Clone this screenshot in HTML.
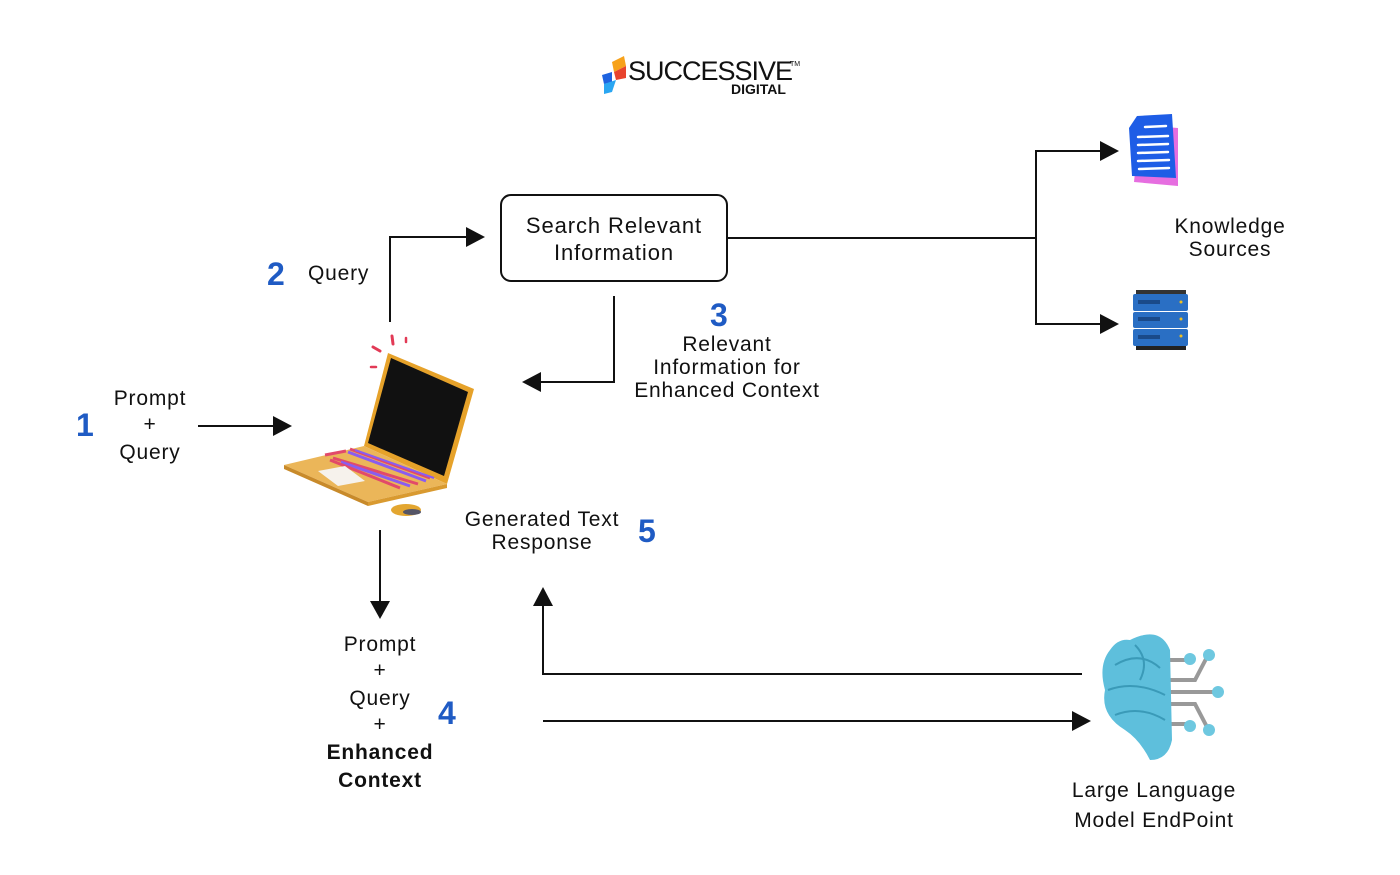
<!DOCTYPE html>
<html><head><meta charset="utf-8"><style>
html,body{margin:0;padding:0;background:#fff;width:1400px;height:875px;overflow:hidden}
svg{display:block}
text{font-family:"Liberation Sans",sans-serif;fill:#111}
.t{font-size:21px;letter-spacing:0.8px}
.b{font-size:22px;letter-spacing:0.9px}
.n{font-size:32px;fill:#1f5bc4;font-weight:bold}
</style></head><body>
<svg width="1400" height="875" viewBox="0 0 1400 875">
<!-- logo -->
<polygon points="612,62 624,56 626,66 614,72" fill="#f7a21b"/>
<polygon points="614,72 626,66 626,78 616,80" fill="#e8442e"/>
<polygon points="602,75 612,72 612,82 604,84" fill="#1e63e0"/>
<polygon points="604,84 616,80 612,92 604,94" fill="#2aa6f2"/>
<text x="628" y="80" style="font-size:27px;letter-spacing:-1px">SUCCESSIVE</text>
<text x="790" y="66" style="font-size:7px">TM</text>
<text x="731" y="94" style="font-size:14px;font-weight:bold">DIGITAL</text>
<!-- search box -->
<rect x="501" y="195" width="226" height="86" rx="10" fill="#fff" stroke="#111" stroke-width="2"/>
<text class="b" x="614" y="233" text-anchor="middle">Search Relevant</text>
<text class="b" x="614" y="260" text-anchor="middle">Information</text>
<g stroke="#111" stroke-width="2" fill="none">
<polyline points="390,322 390,237 466,237"/>
<polyline points="614,296 614,382 541,382"/>
<line x1="727" y1="238" x2="1036" y2="238"/>
<polyline points="1101,151 1036,151 1036,324 1101,324"/>
<line x1="198" y1="426" x2="274" y2="426"/>
<line x1="380" y1="530" x2="380" y2="602"/>
<polyline points="1082,674 543,674 543,605"/>
<line x1="543" y1="721" x2="1073" y2="721"/>
</g>
<g fill="#111">
<polygon points="466,227 485,237 466,247"/>
<polygon points="541,372 522,382 541,392"/>
<polygon points="1100,141 1119,151 1100,161"/>
<polygon points="1100,314 1119,324 1100,334"/>
<polygon points="273,416 292,426 273,436"/>
<polygon points="370,601 380,619 390,601"/>
<polygon points="533,606 543,587 553,606"/>
<polygon points="1072,711 1091,721 1072,731"/>
</g>
<!-- numbers & labels -->
<text class="n" x="76" y="436">1</text>
<text class="t" x="150" y="405" text-anchor="middle">Prompt</text>
<text class="t" x="150" y="431" text-anchor="middle">+</text>
<text class="t" x="150" y="459" text-anchor="middle">Query</text>
<text class="n" x="267" y="285">2</text>
<text class="t" x="308" y="280">Query</text>
<text class="n" x="710" y="326">3</text>
<text class="t" x="727" y="351" text-anchor="middle">Relevant</text>
<text class="t" x="727" y="374" text-anchor="middle">Information for</text>
<text class="t" x="727" y="397" text-anchor="middle">Enhanced Context</text>
<text class="t" x="1230" y="233" text-anchor="middle">Knowledge</text>
<text class="t" x="1230" y="256" text-anchor="middle">Sources</text>
<text class="t" x="542" y="526" text-anchor="middle">Generated Text</text>
<text class="t" x="542" y="549" text-anchor="middle">Response</text>
<text class="n" x="638" y="542">5</text>
<text class="t" x="380" y="651" text-anchor="middle">Prompt</text>
<text class="t" x="380" y="677" text-anchor="middle">+</text>
<text class="t" x="380" y="705" text-anchor="middle">Query</text>
<text class="t" x="380" y="731" text-anchor="middle">+</text>
<text class="t" x="380" y="759" text-anchor="middle" font-weight="bold">Enhanced</text>
<text class="t" x="380" y="787" text-anchor="middle" font-weight="bold">Context</text>
<text class="n" x="438" y="724">4</text>
<text class="t" x="1154" y="797" text-anchor="middle">Large Language</text>
<text class="t" x="1154" y="827" text-anchor="middle">Model EndPoint</text>
<!-- laptop -->
<g>
<line x1="392" y1="336" x2="393" y2="344" stroke="#e23a56" stroke-width="3" stroke-linecap="round"/>
<line x1="406" y1="338" x2="406" y2="342" stroke="#e23a56" stroke-width="2.5" stroke-linecap="round"/>
<line x1="373" y1="347" x2="380" y2="351" stroke="#e23a56" stroke-width="3" stroke-linecap="round"/>
<line x1="371" y1="367" x2="376" y2="367" stroke="#e23a56" stroke-width="2.5" stroke-linecap="round"/>
<polygon points="388,353 474,389 447,484 364,446" fill="#e6a22a"/>
<polygon points="391,358 468,392 444,476 368,443" fill="#111"/>
<polygon points="284,465 364,446 447,484 368,502" fill="#ebb659"/>
<polygon points="284,465 368,502 368,506 284,469" fill="#c88a2a"/>
<polygon points="368,502 447,484 447,488 368,506" fill="#d99a30"/>
<g stroke-width="3">
<line x1="325" y1="455" x2="346" y2="451" stroke="#e24a6a"/>
<line x1="348" y1="452" x2="426" y2="481" stroke="#8a5cf0"/>
<line x1="333" y1="458" x2="418" y2="484" stroke="#e24a6a"/>
<line x1="341" y1="462" x2="410" y2="486" stroke="#8a5cf0"/>
<line x1="330" y1="460" x2="400" y2="488" stroke="#e24a6a"/>
<line x1="350" y1="449" x2="430" y2="478" stroke="#e24a6a"/>
<line x1="355" y1="450" x2="434" y2="478" stroke="#8a5cf0" stroke-width="2"/>
</g>
<polygon points="318,471 345,466 365,481 338,486" fill="#f6f2ec"/>
<ellipse cx="406" cy="510" rx="15" ry="6" fill="#e3a630"/>
<ellipse cx="412" cy="512" rx="9" ry="3" fill="#556"/>
</g>
<!-- document -->
<polygon points="1140,125 1178,128 1178,186 1134,182" fill="#e66ee0"/>
<polygon points="1137,116 1172,114 1176,178 1132,176 1129,128" fill="#1e5de6"/>
<g stroke="#fff" stroke-width="2.5" stroke-linecap="round"><line x1="1145" y1="127" x2="1166" y2="126"/><line x1="1138" y1="137" x2="1168" y2="136"/><line x1="1138" y1="145" x2="1168" y2="144"/><line x1="1138" y1="153" x2="1168" y2="152"/><line x1="1138" y1="161" x2="1169" y2="160"/><line x1="1139" y1="169" x2="1169" y2="168"/></g>
<!-- server -->
<rect x="1136" y="290" width="50" height="5" fill="#333"/>
<g fill="#2a6fc4"><rect x="1133" y="294" width="55" height="17" rx="2"/><rect x="1133" y="312" width="55" height="16" rx="2"/><rect x="1133" y="329" width="55" height="17" rx="2"/></g>
<g fill="#1a4a8a"><rect x="1138" y="300" width="22" height="4"/><rect x="1138" y="317" width="22" height="4"/><rect x="1138" y="335" width="22" height="4"/></g>
<g fill="#f0c020"><circle cx="1181" cy="302" r="1.5"/><circle cx="1181" cy="319" r="1.5"/><circle cx="1181" cy="336" r="1.5"/></g>
<rect x="1136" y="346" width="50" height="4" fill="#222"/>
<!-- brain -->
<g stroke="#999" stroke-width="4" fill="none"><line x1="1170" y1="660" x2="1190" y2="660"/><polyline points="1170,680 1195,680 1207,657"/><line x1="1170" y1="692" x2="1217" y2="692"/><polyline points="1170,704 1195,704 1207,727"/><line x1="1170" y1="724" x2="1190" y2="724"/></g>
<g fill="#6ec8e0"><circle cx="1190" cy="659" r="6"/><circle cx="1209" cy="655" r="6"/><circle cx="1218" cy="692" r="6"/><circle cx="1190" cy="726" r="6"/><circle cx="1209" cy="730" r="6"/></g>
<path d="M1130,640 Q1160,625 1170,650 L1172,740 Q1168,760 1150,760 Q1140,740 1125,730 Q1100,715 1105,690 Q1098,665 1110,650 Q1118,638 1130,640 Z" fill="#5ebfdc"/>
<g stroke="#3a9ab8" stroke-width="2" fill="none"><path d="M1115,665 Q1140,650 1160,668"/><path d="M1108,690 Q1135,680 1165,695"/><path d="M1115,715 Q1140,705 1165,720"/><path d="M1135,645 Q1150,660 1140,680"/></g>
</svg>
</body></html>
